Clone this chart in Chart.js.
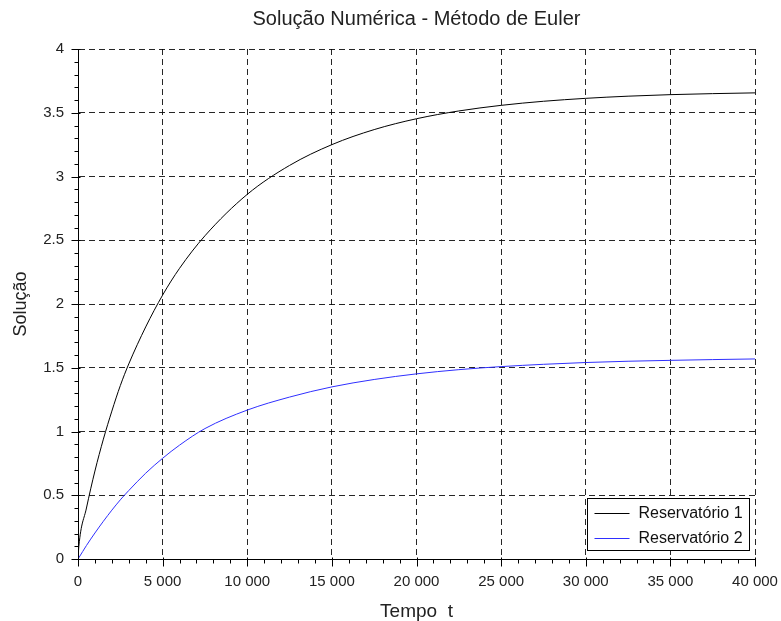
<!DOCTYPE html>
<html>
<head>
<meta charset="utf-8">
<script src="https://cdn.jsdelivr.net/npm/chart.js@4/dist/chart.umd.min.js"></script>
<style>
  html, body { margin: 0; padding: 0; background: #fff; }
  #wrap { width: 781px; height: 621px; }
</style>
</head>
<body>
<div id="wrap"><canvas id="chart-1" width="781" height="621"></canvas></div>
<script>
// data
const tempo = [0, 50, 500, 1000, 1500, 2000, 2500, 3000, 4000, 5000, 6000, 7500,
  10000, 12500, 15000, 17500, 20000, 22500, 25000, 27500, 30000, 32500, 35000, 37500, 40000];
const reservatorio1 = [0, 0.1, 0.40, 0.69, 0.94, 1.16, 1.36, 1.53, 1.82, 2.07, 2.28, 2.535,
  2.86, 3.087, 3.25, 3.368, 3.453, 3.514, 3.558, 3.59, 3.613, 3.63, 3.642, 3.65, 3.656];
const reservatorio2 = [0, 0.01, 0.106, 0.204, 0.296, 0.383, 0.464, 0.537, 0.673, 0.79, 0.893, 1.023,
  1.168, 1.27, 1.35, 1.408, 1.452, 1.485, 1.509, 1.527, 1.541, 1.551, 1.558, 1.564, 1.569];
const seriesNames = ['Reservatório 1', 'Reservatório 2'];
const seriesColors = ['#000000', '#2f2fff'];
const xTicks = [0, 5000, 10000, 15000, 20000, 25000, 30000, 35000, 40000];
const yTicks = [0, 0.5, 1, 1.5, 2, 2.5, 3, 3.5, 4];
const titleText = 'Solução Numérica - Método de Euler';
const xLabel = 'Tempo  t';
const yLabel = 'Solução';

const FONT = "'Liberation Sans', Arial, sans-serif";

function fmtThousands(v) {
  return String(v).replace(/\B(?=(\d{3})+(?!\d))/g, ' ');
}

// title, minor/major tick marks and the boxed legend
const scilabDecor = {
  id: 'scilabDecor',
  afterDraw(chart) {
    const ctx = chart.ctx;
    const area = chart.chartArea;
    const xs = chart.scales.x, ys = chart.scales.y;
    ctx.save();

    // title
    ctx.fillStyle = '#222';
    ctx.font = '20px ' + FONT;
    ctx.textAlign = 'center';
    ctx.textBaseline = 'middle';
    ctx.fillText(titleText, (area.left + area.right) / 2, 19);

    // tick marks
    ctx.strokeStyle = '#000';
    ctx.lineWidth = 1;
    ctx.beginPath();
    const yb = Math.round(area.bottom) + 0.5;
    const xl = Math.round(area.left) + 0.5;
    for (let v = 0; v <= 40000; v += 1000) {
      const px = Math.round(xs.getPixelForValue(v)) + 0.5;
      const major = v % 5000 === 0;
      ctx.moveTo(px, yb - (major ? 2 : 0));
      ctx.lineTo(px, yb + (major ? 7 : 4));
    }
    for (let i = 0; i <= 40; i++) {
      const v = i / 10;
      const py = Math.round(ys.getPixelForValue(v)) + 0.5;
      const major = i % 5 === 0;
      ctx.moveTo(xl + (major ? 2 : 0), py);
      ctx.lineTo(xl - (major ? 7 : 4), py);
    }
    ctx.stroke();

    // legend box
    const bx = Math.round(area.right) - 167.5, by = Math.round(area.bottom) - 60.5;
    const bw = 162, bh = 52;
    ctx.fillStyle = '#fff';
    ctx.fillRect(bx, by, bw, bh);
    ctx.strokeStyle = '#000';
    ctx.strokeRect(bx, by, bw, bh);
    ctx.font = '16px ' + FONT;
    ctx.textAlign = 'left';
    chart.data.datasets.forEach((ds, i) => {
      const ry = Math.round(by + 14 + i * 25) + 0.5;
      ctx.strokeStyle = ds.borderColor;
      ctx.beginPath();
      ctx.moveTo(bx + 7, ry);
      ctx.lineTo(bx + 42, ry);
      ctx.stroke();
      ctx.fillStyle = '#111';
      ctx.fillText(ds.label, bx + 51, ry);
    });
    ctx.restore();
  }
};

const ctx = document.getElementById('chart-1').getContext('2d');
new Chart(ctx, {
  type: 'line',
  data: {
    datasets: [
      {
        label: seriesNames[0],
        data: tempo.map((t, i) => ({ x: t, y: reservatorio1[i] })),
        borderColor: seriesColors[0],
        borderWidth: 1,
        pointRadius: 0,
        fill: false,
        cubicInterpolationMode: 'monotone'
      },
      {
        label: seriesNames[1],
        data: tempo.map((t, i) => ({ x: t, y: reservatorio2[i] })),
        borderColor: seriesColors[1],
        borderWidth: 1,
        pointRadius: 0,
        fill: false,
        cubicInterpolationMode: 'monotone'
      }
    ]
  },
  options: {
    responsive: false,
    animation: false,
    layout: { padding: { top: 49, right: 0, left: 0, bottom: 0 } },
    plugins: {
      legend: { display: false },
      title: { display: false },
      tooltip: { enabled: false }
    },
    scales: {
      x: {
        type: 'linear',
        min: 0,
        max: 40000,
        afterFit(scale) {
          scale.height = 62;
          scale.paddingRight = 26;
          scale.paddingLeft = 0;
        },
        afterBuildTicks(scale) { scale.ticks = xTicks.map(v => ({ value: v })); },
        ticks: {
          color: '#222',
          font: { family: FONT, size: 15 },
          padding: 14,
          maxRotation: 0,
          autoSkip: false,
          callback: v => fmtThousands(v)
        },
        grid: { color: 'rgba(0,0,0,0.85)', drawTicks: false, lineWidth: 1 },
        border: { display: true, color: '#000', width: 1, dash: [6, 4] },
        title: {
          display: true,
          text: xLabel,
          color: '#222',
          font: { family: FONT, size: 19, lineHeight: 1 },
          padding: { top: 0, bottom: 0 }
        }
      },
      y: {
        type: 'linear',
        min: 0,
        max: 4,
        afterFit(scale) {
          scale.width = 78;
          scale.paddingTop = 0;
          scale.paddingBottom = 0;
        },
        afterBuildTicks(scale) { scale.ticks = yTicks.map(v => ({ value: v })); },
        ticks: {
          color: '#222',
          font: { family: FONT, size: 15 },
          padding: 14,
          autoSkip: false,
          callback: v => String(v)
        },
        grid: { color: 'rgba(0,0,0,0.85)', drawTicks: false, lineWidth: 1 },
        border: { display: true, color: '#000', width: 1, dash: [6, 4] },
        title: {
          display: true,
          text: yLabel,
          color: '#222',
          font: { family: FONT, size: 18, lineHeight: 1 },
          padding: { top: 12, bottom: 0 }
        }
      }
    }
  },
  plugins: [scilabDecor]
});
</script>
</body>
</html>
